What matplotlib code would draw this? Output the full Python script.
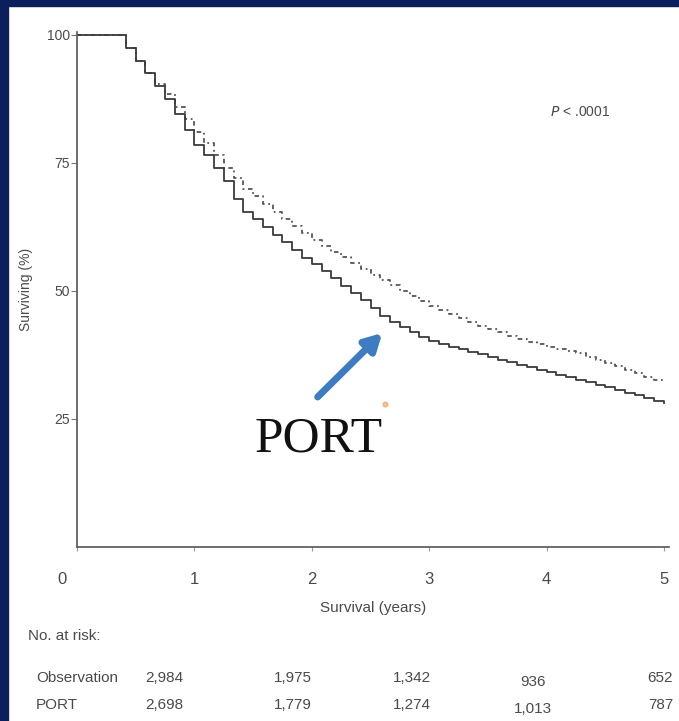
import matplotlib
matplotlib.use("Agg")
import matplotlib.pyplot as plt
import numpy as np

# ---- data ----
months = list(range(0, 61))
port_surv = [100, 100, 100, 100, 100, 97.5, 95, 92.5, 90, 87.5, 84.5, 81.5, 78.5,
             76.5, 74, 71.5, 68, 65.5, 64, 62.5, 61, 59.5, 58, 56.5, 55.3,
             54, 52.5, 51, 49.6, 48.2, 46.7, 45.2, 44, 43, 42, 41, 40.3,
             39.7, 39.1, 38.6, 38.1, 37.6, 37.1, 36.6, 36.1, 35.6, 35.1, 34.6, 34.1,
             33.6, 33.2, 32.7, 32.2, 31.7, 31.2, 30.7, 30.1, 29.6, 29.1, 28.6, 28.1]
obs_surv = [100, 100, 100, 100, 100, 97.5, 95, 92.5, 90.5, 88.5, 86, 83.5, 81,
            79, 76.5, 74, 72, 70, 68.5, 67, 65.5, 64, 62.7, 61.3, 60,
            58.7, 57.7, 56.7, 55.5, 54.3, 53.2, 52.2, 51.1, 50, 49, 48, 47.1,
            46.3, 45.5, 44.7, 43.9, 43.2, 42.5, 41.9, 41.3, 40.7, 40.1, 39.6, 39.1,
            38.7, 38.3, 37.8, 37.2, 36.6, 36, 35.3, 34.6, 33.9, 33.2, 32.6, 32.2]
x_ticks = [0, 1, 2, 3, 4, 5]
y_ticks = [25, 50, 75, 100]
risk_groups = ["Observation", "PORT"]
risk_obs = ["2,984", "1,975", "1,342", "936", "652"]
risk_port = ["2,698", "1,779", "1,274", "1,013", "787"]
risk_x = [0.74, 1.84, 2.85, 3.88, 4.97]

years = np.array(months) / 12.0

NAVY = "#0b1f5c"
GRAY = "#4a4a4a"
NARROW = ["Liberation Sans Narrow", "Liberation Sans", "DejaVu Sans"]

fig = plt.figure(figsize=(6.79, 7.21), dpi=100)
fig.patch.set_facecolor("white")
# navy border (top and left)
fig.add_artist(plt.Rectangle((0, 1 - 6 / 721), 1, 6 / 721, transform=fig.transFigure,
                             color=NAVY, zorder=0))
fig.add_artist(plt.Rectangle((0, 0), 8 / 679, 1, transform=fig.transFigure,
                             color=NAVY, zorder=0))

W, H = 679, 721
x0px, y0px = 77, 547
px_per_year = 117.4
px_per_pct = 5.12
xmax, ymax = 5.04, 100.5
ax = fig.add_axes([x0px / W, (H - y0px) / H, xmax * px_per_year / W, ymax * px_per_pct / H])
ax.set_xlim(0, xmax)
ax.set_ylim(0, ymax)

ax.step(years, obs_surv, where="post", color="#555555", lw=1.3,
        linestyle=(0, (2.5, 2, 1, 2)))
ax.step(years, port_surv, where="post", color="#3a3a3a", lw=1.3)

for s in ["top", "right"]:
    ax.spines[s].set_visible(False)
for s in ["left", "bottom"]:
    ax.spines[s].set_color("#555555")
    ax.spines[s].set_linewidth(1.2)

ax.set_yticks(y_ticks)
ax.set_yticklabels([str(v) for v in y_ticks], family=NARROW, fontsize=10, color=GRAY)
ax.set_xticks(x_ticks)
ax.set_xticklabels(["" if v == 0 else str(v) for v in x_ticks], family=NARROW,
                   fontsize=12, color=GRAY)
ax.tick_params(axis="y", direction="out", length=4, width=0.8, color="#777777", pad=1)
ax.tick_params(axis="x", direction="out", length=3, width=0.8, color="#999999", pad=15)
# the "0" label sits left of the axis in the reference
ax.annotate("0", xy=(0, 0), xycoords="data", xytext=(-11, -18),
            textcoords="offset points", family=NARROW, fontsize=12, color=GRAY,
            ha="center", va="top")

ax.set_xlabel("Survival (years)", family=NARROW, fontsize=11, color=GRAY, labelpad=10)
ax.set_ylabel("Surviving (%)", family=NARROW, fontsize=10, color=GRAY, labelpad=10)

ax.text(4.03, 85.0, r"$P$ < .0001", family=NARROW, fontsize=10, color=GRAY,
        ha="left", va="center")

ax.text(2.06, 21.0, "PORT", family=["Liberation Serif", "DejaVu Serif"], fontsize=37,
        color="#111111", ha="center", va="center")
ax.plot([2.62], [27.9], marker="o", color="#f0b070", ms=3.5, alpha=0.8)

ax.annotate("", xy=(2.6, 41.8), xytext=(2.05, 29.3),
            arrowprops=dict(arrowstyle="-|>,head_length=1.0,head_width=0.55",
                            color="#3e7cc2", lw=5, shrinkA=0, shrinkB=0))

# number at risk table
fig.text(28 / W, 1 - 636 / H, "No. at risk:", family=NARROW, fontsize=11, color=GRAY,
         ha="left", va="center")
rows_y = [678, 705]
for name, vals, ypx in zip(risk_groups, [risk_obs, risk_port], rows_y):
    fig.text(36 / W, 1 - ypx / H, name, family=NARROW, fontsize=11, color=GRAY,
             ha="left", va="center")
    for i, (xv, v) in enumerate(zip(risk_x, vals)):
        dy = 4 if i == 3 else 0
        xf = (x0px + xv * px_per_year) / W
        fig.text(xf, 1 - (ypx + dy) / H, v, family=NARROW, fontsize=11, color=GRAY,
                 ha="center", va="center")

fig.savefig("out.png", dpi=100, facecolor=fig.get_facecolor())
